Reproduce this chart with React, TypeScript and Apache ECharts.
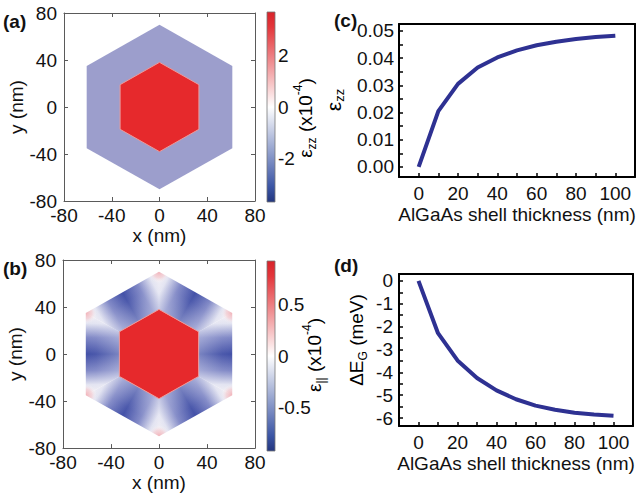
import React, { useEffect, useRef } from "react";
import * as echarts from "echarts";

// ---- data ----
const outerHex = [[0, 70], [61, 35], [61, -35], [0, -70], [-61, -35], [-61, 35]];
const innerHex = [[0, 38], [33, 19], [33, -19], [0, -38], [-33, -19], [-33, 19]];

const cbARange = [-3.7, 3.7];
const cbATicks = [-2, 0, 2];
const cbBRange = [-0.93, 0.93];
const cbBTicks = [-0.5, 0, 0.5];

const thickness = [0, 10, 20, 30, 40, 50, 60, 70, 80, 90, 100];
const ezz = [0.0, 0.0205, 0.0305, 0.0365, 0.0402, 0.0428, 0.0447, 0.046, 0.047, 0.0477, 0.0482];
const dEg = [0.0, -2.29, -3.48, -4.25, -4.79, -5.18, -5.46, -5.64, -5.77, -5.85, -5.9];

const thickTicks = [0, 10, 20, 30, 40, 50, 60, 70, 80, 90, 100];
const thickLabels = [0, 20, 40, 60, 80, 100];
const ezzTicks = [0, 0.005, 0.01, 0.015, 0.02, 0.025, 0.03, 0.035, 0.04, 0.045, 0.05];
const ezzLabels = [0, 0.01, 0.02, 0.03, 0.04, 0.05];
const egTicks = [-6, -5.5, -5, -4.5, -4, -3.5, -3, -2.5, -2, -1.5, -1, -0.5, 0];
const egLabels = [-6, -5, -4, -3, -2, -1, 0];

// ---- styles ----
const FONT = "Liberation Sans";
const FS = 19;
const navy = "#2e3192";
const coreRed = "#e6292c";
const shellA = "#9c9ecc";
const frameGrey = "#5a5a5a";

const cbStops = [
  { offset: 0, color: "#d8232a" },
  { offset: 0.08, color: "#e3363b" },
  { offset: 0.5, color: "#ffffff" },
  { offset: 0.92, color: "#3b55a5" },
  { offset: 1, color: "#23367f" },
];

export default function App() {
  const ref = useRef<HTMLDivElement>(null);

  useEffect(() => {
    const chart = echarts.init(ref.current!, null, { renderer: "svg" });

    const labelStyle = { fontFamily: FONT, fontSize: FS, color: "#111" };
    const nameStyle = { fontFamily: FONT, fontSize: FS, color: "#111" };

    const mapX = (grid: number, top: boolean) => ({
      type: "value",
      gridIndex: grid,
      min: -80,
      max: 80,
      interval: 40,
      position: top ? "top" : "bottom",
      axisLine: { show: true, onZero: false, lineStyle: { color: frameGrey, width: 1 } },
      axisTick: { show: true, inside: true, length: 4, lineStyle: { color: frameGrey } },
      axisLabel: top ? { show: false } : { ...labelStyle, margin: 5 },
      splitLine: { show: false },
      name: top ? "" : "x (nm)",
      nameLocation: "middle",
      nameGap: 20,
      nameTextStyle: nameStyle,
    });
    const mapY = (grid: number, right: boolean) => ({
      type: "value",
      gridIndex: grid,
      min: -80,
      max: 80,
      interval: 40,
      position: right ? "right" : "left",
      axisLine: { show: true, onZero: false, lineStyle: { color: frameGrey, width: 1 } },
      axisTick: { show: true, inside: true, length: 4, lineStyle: { color: frameGrey } },
      axisLabel: right ? { show: false } : { ...labelStyle, margin: 7 },
      splitLine: { show: false },
      name: right ? "" : "y (nm)",
      nameLocation: "middle",
      nameGap: 37,
      nameRotate: 90,
      nameTextStyle: nameStyle,
    });
    const hiddenX = (grid: number) => ({
      type: "value",
      gridIndex: grid,
      min: 0,
      max: 1,
      show: false,
    });
    const rich = {
      n: { fontFamily: FONT, fontSize: FS, lineHeight: 26, color: "#111" },
      s: { fontFamily: FONT, fontSize: 12, lineHeight: 11, verticalAlign: "bottom", color: "#111" },
      p: { fontFamily: FONT, fontSize: 12, lineHeight: 11, verticalAlign: "top", color: "#111" },
    };
    const richBig = {
      ...rich,
      n: { ...rich.n, fontSize: 21 },
      s: { ...rich.s, fontSize: 13 },
    };
    const cbY = (grid: number, range: number[], ticks: number[]) => ({
      type: "value",
      gridIndex: grid,
      min: range[0],
      max: range[1],
      position: "right",
      axisLine: { show: false, onZero: false },
      axisTick: { show: true, inside: true, length: 2, customValues: ticks, lineStyle: { color: "#444" } },
      axisLabel: { ...labelStyle, margin: 3, customValues: ticks },
      splitLine: { show: false },
    });

    const hexRender = (gradient: boolean) => (params: any, api: any) => {
      const toPts = (arr: number[][]) => arr.map((p) => api.coord(p));
      const O = toPts(outerHex);
      const I = toPts(innerHex);
      const children: any[] = [];
      if (!gradient) {
        children.push({ type: "polygon", shape: { points: O }, style: { fill: shellA } });
      } else {
        for (let i = 0; i < 6; i++) {
          const j = (i + 1) % 6;
          const pts = [O[i], O[j], I[j], I[i]];
          children.push({
            type: "polygon",
            shape: { points: pts },
            style: {
              fill: {
                type: "linear",
                global: true,
                x: O[i][0], y: O[i][1], x2: O[j][0], y2: O[j][1],
                colorStops: [
                  { offset: 0, color: "#f7f3f6" },
                  { offset: 0.13, color: "#e2e3f1" },
                  { offset: 0.3, color: "#8088c6" },
                  { offset: 0.5, color: "#4250a7" },
                  { offset: 0.7, color: "#8088c6" },
                  { offset: 0.87, color: "#e2e3f1" },
                  { offset: 1, color: "#f7f3f6" },
                ],
              },
            },
          });
          const mo = [(O[i][0] + O[j][0]) / 2, (O[i][1] + O[j][1]) / 2];
          const mi = [(I[i][0] + I[j][0]) / 2, (I[i][1] + I[j][1]) / 2];
          children.push({
            type: "polygon",
            shape: { points: pts },
            style: {
              fill: {
                type: "linear",
                global: true,
                x: mo[0], y: mo[1], x2: mi[0], y2: mi[1],
                colorStops: [
                  { offset: 0, color: "rgba(255,255,255,0)" },
                  { offset: 0.3, color: "rgba(255,255,255,0.05)" },
                  { offset: 1, color: "rgba(255,255,255,0.3)" },
                ],
              },
            },
          });
        }
        for (let i = 0; i < 6; i++) {
          children.push({
            type: "polygon",
            shape: { points: O },
            style: {
              fill: {
                type: "radial",
                global: true,
                x: O[i][0], y: O[i][1], r: 11,
                colorStops: [
                  { offset: 0, color: "rgba(240,160,168,0.8)" },
                  { offset: 0.55, color: "rgba(246,196,200,0.55)" },
                  { offset: 1, color: "rgba(255,255,255,0)" },
                ],
              },
            },
          });
        }
      }
      children.push({
        type: "polygon",
        shape: { points: I },
        style: { fill: coreRed, stroke: "#ec9a9a", lineWidth: 1 },
      });
      return { type: "group", children };
    };

    const cbRender = (range: number[]) => (params: any, api: any) => {
      const a = api.coord([0, range[1]]);
      const b = api.coord([1, range[0]]);
      return {
        type: "rect",
        shape: { x: a[0], y: a[1], width: b[0] - a[0], height: b[1] - a[1] },
        style: {
          fill: { type: "linear", x: 0, y: 0, x2: 0, y2: 1, colorStops: cbStops },
          stroke: "#777",
          lineWidth: 0.8,
        },
      };
    };

    const frameLine = { show: true, onZero: false, lineStyle: { color: "#000", width: 2 } };
    const lineX = (grid: number) => ({
      type: "value",
      gridIndex: grid,
      min: -10,
      max: 110,
      axisLine: frameLine,
      axisTick: { show: true, inside: true, length: 4, customValues: thickTicks, lineStyle: { color: "#000", width: 1.5 } },
      axisLabel: { ...labelStyle, margin: 7, customValues: thickLabels },
      splitLine: { show: false },
      name: "AlGaAs shell thickness (nm)",
      nameLocation: "middle",
      nameGap: 28,
      nameTextStyle: nameStyle,
    });
    const mirrorX = (grid: number, min: number, max: number) => ({
      type: "value",
      gridIndex: grid,
      min,
      max,
      position: "top",
      axisLine: frameLine,
      axisTick: { show: false },
      axisLabel: { show: false },
      splitLine: { show: false },
    });
    const mirrorY = (grid: number, min: number, max: number) => ({
      type: "value",
      gridIndex: grid,
      min,
      max,
      position: "right",
      axisLine: frameLine,
      axisTick: { show: false },
      axisLabel: { show: false },
      splitLine: { show: false },
    });

    const option: any = {
      animation: false,
      textStyle: { fontFamily: FONT },
      grid: [
        { left: 64, top: 13, width: 191, height: 188 },
        { left: 267, top: 12, width: 8, height: 190 },
        { left: 63, top: 260, width: 192, height: 189 },
        { left: 267, top: 261, width: 8, height: 190 },
        { left: 399, top: 24, width: 236, height: 153 },
        { left: 399, top: 274, width: 234, height: 152 },
      ],
      xAxis: [
        mapX(0, false),
        mapX(0, true),
        hiddenX(1),
        mapX(2, false),
        mapX(2, true),
        hiddenX(3),
        lineX(4),
        lineX(5),
        mirrorX(4, -10, 110),
        mirrorX(5, -10, 110),
      ],
      yAxis: [
        mapY(0, false),
        mapY(0, true),
        cbY(1, cbARange, cbATicks),
        mapY(2, false),
        mapY(2, true),
        cbY(3, cbBRange, cbBTicks),
        {
          type: "value",
          gridIndex: 4,
          min: -0.0037,
          max: 0.0525,
          axisLine: frameLine,
          axisTick: { show: true, inside: true, length: 4, customValues: ezzTicks, lineStyle: { color: "#000", width: 1.5 } },
          axisLabel: { ...labelStyle, margin: 5, customValues: ezzLabels, formatter: (v: number) => v.toFixed(2) },
          splitLine: { show: false },
        },
        {
          type: "value",
          gridIndex: 5,
          min: -6.35,
          max: 0.3,
          axisLine: frameLine,
          axisTick: { show: true, inside: true, length: 4, customValues: egTicks, lineStyle: { color: "#000", width: 1.5 } },
          axisLabel: { ...labelStyle, margin: 6, customValues: egLabels },
          splitLine: { show: false },
        },
        mirrorY(4, -0.0037, 0.0525),
        mirrorY(5, -6.35, 0.3),
      ],
      series: [
        { type: "custom", xAxisIndex: 0, yAxisIndex: 0, data: [[0, 0]], renderItem: hexRender(false), clip: false, silent: true },
        { type: "custom", xAxisIndex: 2, yAxisIndex: 2, data: [[0, 0]], renderItem: cbRender(cbARange), silent: true },
        { type: "custom", xAxisIndex: 3, yAxisIndex: 3, data: [[0, 0]], renderItem: hexRender(true), clip: false, silent: true },
        { type: "custom", xAxisIndex: 5, yAxisIndex: 5, data: [[0, 0]], renderItem: cbRender(cbBRange), silent: true },
        {
          type: "line", xAxisIndex: 6, yAxisIndex: 6,
          data: thickness.map((t, i) => [t, ezz[i]]),
          symbol: "none", lineStyle: { color: navy, width: 4 }, silent: true,
        },
        {
          type: "line", xAxisIndex: 7, yAxisIndex: 7,
          data: thickness.map((t, i) => [t, dEg[i]]),
          symbol: "none", lineStyle: { color: navy, width: 4 }, silent: true,
        },
      ],
      graphic: [
        { type: "text", left: 3, top: 12, style: { text: "(a)", fontFamily: FONT, fontSize: 19, fontWeight: "bold", fill: "#111" } },
        { type: "text", left: 3, top: 259, style: { text: "(b)", fontFamily: FONT, fontSize: 19, fontWeight: "bold", fill: "#111" } },
        { type: "text", left: 334, top: 11, style: { text: "(c)", fontFamily: FONT, fontSize: 19, fontWeight: "bold", fill: "#111" } },
        { type: "text", left: 334, top: 256, style: { text: "(d)", fontFamily: FONT, fontSize: 19, fontWeight: "bold", fill: "#111" } },
        {
          type: "text", x: 305, y: 118, rotation: Math.PI / 2,
          style: { text: "{n|ε}{s|zz}{n| (x10}{p|-4}{n|)}", rich, align: "center", verticalAlign: "middle" },
        },
        {
          type: "text", x: 314, y: 355, rotation: Math.PI / 2,
          style: { text: "{n|ε}{s|||}{n| (x10}{p|-4}{n|)}", rich, align: "center", verticalAlign: "middle" },
        },
        {
          type: "text", x: 333, y: 100, rotation: Math.PI / 2,
          style: { text: "{n|ε}{s|zz}", rich: richBig, align: "center", verticalAlign: "middle" },
        },
        {
          type: "text", x: 356, y: 340, rotation: Math.PI / 2,
          style: { text: "{n|ΔE}{s|G}{n| (meV)}", rich, align: "center", verticalAlign: "middle" },
        },
      ],
    };

    chart.setOption(option);
    return () => chart.dispose();
  }, []);

  return (
    <div
      ref={ref}
      style={{ position: "absolute", left: 0, top: 0, width: 641, height: 493, background: "#fff" }}
    />
  );
}
